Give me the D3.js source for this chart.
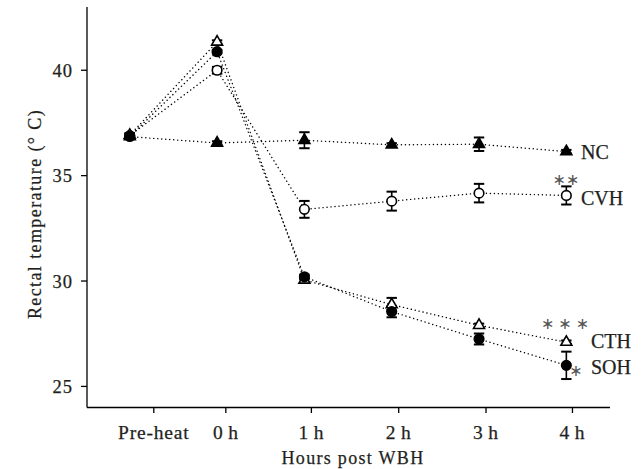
<!DOCTYPE html>
<html>
<head>
<meta charset="utf-8">
<script src="https://cdn.jsdelivr.net/npm/d3@7"></script>
<style>
  html, body { margin: 0; padding: 0; background: #fff; }
  svg { display: block; }
</style>
</head>
<body>
<svg id="chart" width="643" height="469"></svg>
<script>
// ---- data ----
const timepoints = ["Pre-heat", "0\u2009h", "1\u2009h", "2\u2009h", "3\u2009h", "4\u2009h"];
const tickPositions = [0.275, 1.1, 2.08, 3.08, 4.08, 5.07];   // tick centres in time-index units
const yTicks = [25, 30, 35, 40];

const ncValues  = [36.85, 36.55, 36.68, 36.46, 36.49, 36.14];
const ncErr     = [0.10, 0.08, 0.38, 0.08, 0.32, 0.08];
const cvhValues = [36.90, 40.00, 33.40, 33.79, 34.17, 34.06];
const cvhErr    = [0.10, 0.16, 0.40, 0.45, 0.44, 0.43];
const cthValues = [36.92, 41.34, 30.05, 28.88, 27.90, 27.10];
const cthErr    = [0.10, 0.08, 0.08, 0.32, 0.08, 0.08];
const sohValues = [36.86, 40.88, 30.20, 28.55, 27.25, 26.00];
const sohErr    = [0.10, 0.08, 0.10, 0.27, 0.26, 0.65];

const seriesNames = ["NC", "CVH", "CTH", "SOH"];
const significance = ["", "**", "***", "*"];

const series = [
  { name: seriesNames[0], values: ncValues,  err: ncErr,  shape: "triangle", filled: true,  sig: significance[0] },
  { name: seriesNames[1], values: cvhValues, err: cvhErr, shape: "circle",   filled: false, sig: significance[1] },
  { name: seriesNames[2], values: cthValues, err: cthErr, shape: "triangle", filled: false, sig: significance[2] },
  { name: seriesNames[3], values: sohValues, err: sohErr, shape: "circle",   filled: true,  sig: significance[3] }
];

const FONT = "'Liberation Serif', 'DejaVu Serif', serif";
const TXT = "#231f20";

// ---- layout ----
const svg = d3.select("#chart");
const x = d3.scaleLinear().domain([-0.49, 5.5]).range([87, 610]);
const y = d3.scaleLinear().domain([24, 43]).range([407.5, 7]);

function txt(sel) {
  return sel.attr("font-family", FONT).attr("fill", TXT)
    .attr("stroke", TXT).attr("stroke-width", 0.25);
}

// axes
const xAxis = svg.append("g").attr("transform", `translate(0,${y(24)})`);
xAxis.append("line").attr("x1", x(-0.49)).attr("x2", x(5.5)).attr("stroke", "#000").attr("stroke-width", 1.3);
xAxis.selectAll(".xt").data(timepoints).enter().append("line")
  .attr("x1", (d, i) => x(tickPositions[i])).attr("x2", (d, i) => x(tickPositions[i]))
  .attr("y1", 0).attr("y2", 5.5).attr("stroke", "#000").attr("stroke-width", 1.3);
txt(xAxis.selectAll(".xl").data(timepoints).enter().append("text"))
  .attr("x", (d, i) => x(tickPositions[i])).attr("y", 31)
  .attr("text-anchor", "middle").attr("font-size", 19.5).attr("letter-spacing", 0.8)
  .text(d => d);

const yAxis = svg.append("g").attr("transform", `translate(${x(-0.49)},0)`);
yAxis.append("line").attr("y1", y(24)).attr("y2", y(43)).attr("stroke", "#000").attr("stroke-width", 1.3);
yAxis.selectAll(".yt").data(yTicks).enter().append("line")
  .attr("y1", d => y(d)).attr("y2", d => y(d)).attr("x1", -6).attr("x2", 0)
  .attr("stroke", "#000").attr("stroke-width", 1.3);
txt(yAxis.selectAll(".yl").data(yTicks).enter().append("text"))
  .attr("x", -14).attr("y", d => y(d)).attr("dy", "0.35em")
  .attr("text-anchor", "end").attr("font-size", 18.5).attr("letter-spacing", 1)
  .text(d => d);

// axis titles
txt(svg.append("text")).attr("x", 353).attr("y", 464).attr("text-anchor", "middle")
  .attr("font-size", 18).attr("letter-spacing", 1.3).text("Hours post WBH");
txt(svg.append("text")).attr("transform", `translate(41,214) rotate(-90)`).attr("text-anchor", "middle")
  .attr("font-size", 18).attr("letter-spacing", 1.4).text("Rectal temperature (° C)");

// dotted lines
const line = d3.line().x((d, i) => x(i)).y(d => y(d));
svg.selectAll(".series-line").data(series).enter().append("path")
  .attr("d", s => line(s.values))
  .attr("fill", "none").attr("stroke", "#000").attr("stroke-width", 1.4)
  .attr("stroke-dasharray", "0.1 3.9").attr("stroke-linecap", "round");

// error bars
const capW = 5.2;
series.forEach(s => {
  const g = svg.append("g");
  s.values.forEach((v, i) => {
    const cx = x(i), top = y(v + s.err[i]), bot = y(v - s.err[i]);
    g.append("line").attr("x1", cx).attr("x2", cx).attr("y1", top).attr("y2", bot).attr("stroke", "#000").attr("stroke-width", 1.6);
    g.append("line").attr("x1", cx - capW).attr("x2", cx + capW).attr("y1", top).attr("y2", top).attr("stroke", "#000").attr("stroke-width", 2);
    g.append("line").attr("x1", cx - capW).attr("x2", cx + capW).attr("y1", bot).attr("y2", bot).attr("stroke", "#000").attr("stroke-width", 2);
  });
});

// markers
const triSym = d3.symbol().type(d3.symbolTriangle).size(52);
const cirSym = d3.symbol().type(d3.symbolCircle).size(72);
series.forEach(s => {
  svg.append("g").selectAll("path").data(s.values).enter().append("path")
    .attr("transform", (v, i) => `translate(${x(i)},${y(v)})`)
    .attr("d", s.shape === "triangle" ? triSym : cirSym)
    .attr("fill", s.filled ? "#000" : "#fff")
    .attr("stroke", "#000").attr("stroke-width", 1.6);
});

// series labels
const labelPos = [
  { x: 581, y: 159 },
  { x: 581, y: 205 },
  { x: 591, y: 348 },
  { x: 591, y: 374 }
];
series.forEach((s, k) => {
  txt(svg.append("text")).attr("x", labelPos[k].x).attr("y", labelPos[k].y)
    .attr("font-size", 20).text(s.name);
});
// significance marks
const sigPos = [null, { x: 566, y: 185 }, { x: 567, y: 329 }, { x: 576, y: 376 }];
series.forEach((s, k) => {
  if (!s.sig) return;
  svg.append("text").attr("x", sigPos[k].x).attr("y", sigPos[k].y).attr("text-anchor", "middle")
    .attr("font-family", "'DejaVu Sans', sans-serif").attr("font-size", 16).attr("fill", "#555")
    .attr("letter-spacing", k === 2 ? 4 : 0)
    .text(s.sig.replace(/\*/g, "\u2217"));
});
</script>
</body>
</html>
